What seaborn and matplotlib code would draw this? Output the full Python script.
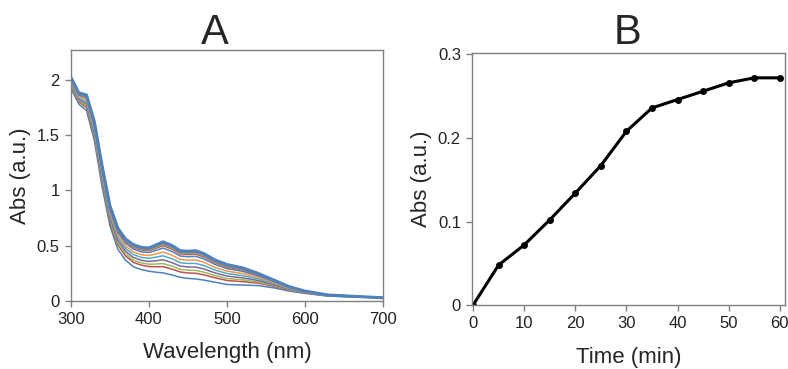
"""UV-vis spectra over time (A) and absorbance kinetics (B)."""

import matplotlib
matplotlib.use("Agg")
import matplotlib.pyplot as plt
import pandas as pd
import seaborn as sns

# Panel A: spectra sampled at these wavelengths, one curve per time point
WAVELENGTH = [300, 310, 320, 330, 340, 350, 360, 370, 380, 390, 400, 410, 418,
              430, 440, 450, 460, 470, 485, 500, 520, 540, 560, 580, 600, 630, 700]
ABS_00 = [1.92, 1.78, 1.72, 1.45, 1.03, 0.68, 0.47, 0.37, 0.31, 0.285, 0.27, 0.26, 0.255,
          0.235, 0.215, 0.205, 0.20, 0.19, 0.17, 0.15, 0.145, 0.14, 0.12, 0.09, 0.07, 0.045, 0.03]
ABS_05 = [1.94, 1.80, 1.748, 1.484, 1.068, 0.716, 0.508, 0.408, 0.35, 0.325, 0.312, 0.31, 0.311,
          0.288, 0.263, 0.254, 0.251, 0.238, 0.21, 0.186, 0.176, 0.162, 0.134, 0.098, 0.074, 0.047, 0.03]
ABS_10 = [1.95, 1.81, 1.762, 1.501, 1.087, 0.734, 0.527, 0.427, 0.37, 0.345, 0.333, 0.335, 0.339,
          0.315, 0.287, 0.279, 0.277, 0.262, 0.23, 0.204, 0.192, 0.173, 0.141, 0.102, 0.076, 0.048, 0.03]
ABS_15 = [1.962, 1.822, 1.779, 1.521, 1.11, 0.756, 0.55, 0.45, 0.394, 0.369, 0.358, 0.365, 0.373,
          0.346, 0.316, 0.308, 0.307, 0.291, 0.254, 0.226, 0.21, 0.186, 0.149, 0.107, 0.078, 0.049, 0.03]
ABS_20 = [1.975, 1.835, 1.797, 1.544, 1.135, 0.779, 0.575, 0.475, 0.42, 0.395, 0.386, 0.398, 0.409,
          0.381, 0.347, 0.34, 0.34, 0.322, 0.28, 0.249, 0.23, 0.201, 0.159, 0.112, 0.081, 0.05, 0.03]
ABS_25 = [1.987, 1.847, 1.814, 1.564, 1.157, 0.801, 0.597, 0.497, 0.444, 0.419, 0.411, 0.428, 0.443,
          0.413, 0.376, 0.369, 0.371, 0.351, 0.304, 0.271, 0.249, 0.214, 0.167, 0.117, 0.083, 0.052, 0.03]
ABS_30 = [2.0, 1.86, 1.832, 1.586, 1.182, 0.824, 0.622, 0.522, 0.47, 0.445, 0.438, 0.46, 0.479,
          0.447, 0.407, 0.401, 0.404, 0.382, 0.33, 0.294, 0.269, 0.228, 0.176, 0.122, 0.086, 0.053, 0.03]
ABS_35 = [2.008, 1.868, 1.843, 1.6, 1.197, 0.838, 0.637, 0.537, 0.486, 0.461, 0.455, 0.48, 0.501,
          0.468, 0.426, 0.421, 0.424, 0.401, 0.346, 0.308, 0.281, 0.237, 0.182, 0.125, 0.088, 0.054, 0.03]
ABS_40 = [2.012, 1.872, 1.849, 1.606, 1.205, 0.846, 0.645, 0.545, 0.494, 0.469, 0.463, 0.49, 0.513,
          0.479, 0.436, 0.43, 0.435, 0.411, 0.354, 0.316, 0.288, 0.241, 0.184, 0.127, 0.088, 0.054, 0.03]
ABS_45 = [2.015, 1.875, 1.853, 1.612, 1.211, 0.851, 0.651, 0.551, 0.50, 0.475, 0.47, 0.498, 0.521,
          0.487, 0.443, 0.438, 0.442, 0.418, 0.36, 0.321, 0.292, 0.245, 0.187, 0.128, 0.089, 0.055, 0.03]
ABS_50 = [2.018, 1.878, 1.857, 1.617, 1.216, 0.856, 0.656, 0.556, 0.506, 0.481, 0.476, 0.505, 0.529,
          0.495, 0.45, 0.445, 0.45, 0.425, 0.366, 0.326, 0.297, 0.248, 0.189, 0.129, 0.09, 0.055, 0.03]
ABS_55 = [2.019, 1.879, 1.859, 1.618, 1.218, 0.858, 0.658, 0.558, 0.508, 0.483, 0.478, 0.508, 0.532,
          0.497, 0.453, 0.448, 0.452, 0.428, 0.368, 0.328, 0.298, 0.249, 0.189, 0.13, 0.09, 0.055, 0.03]
ABS_60 = [2.02, 1.88, 1.86, 1.62, 1.22, 0.86, 0.66, 0.56, 0.51, 0.485, 0.48, 0.51, 0.535,
          0.50, 0.455, 0.45, 0.455, 0.43, 0.37, 0.33, 0.30, 0.25, 0.19, 0.13, 0.09, 0.055, 0.03]
SPECTRA = [ABS_00, ABS_05, ABS_10, ABS_15, ABS_20, ABS_25, ABS_30,
           ABS_35, ABS_40, ABS_45, ABS_50, ABS_55, ABS_60]

# Panel B: kinetics
TIME_MIN = [0, 5, 10, 15, 20, 25, 30, 35, 40, 45, 50, 55, 60]
ABS_KINETIC = [0.0, 0.048, 0.072, 0.102, 0.134, 0.167, 0.208, 0.236, 0.246,
               0.256, 0.266, 0.272, 0.272]

# Excel 2007 style series colours
EXCEL = ["#4F81BD", "#C0504D", "#9BBB59", "#8064A2", "#4BACC6", "#F79646"]

sns.set_theme(style="ticks")
plt.rcParams["font.family"] = ["Liberation Sans", "DejaVu Sans"]

spectra = pd.DataFrame(
    [(t, w, a) for t, curve in zip(TIME_MIN, SPECTRA) for w, a in zip(WAVELENGTH, curve)],
    columns=["time", "wavelength", "abs"],
)
palette = {t: EXCEL[i % len(EXCEL)] for i, t in enumerate(TIME_MIN)}

fig = plt.figure(figsize=(7.88, 3.69), dpi=100)
ax_a = fig.add_axes([0.090, 0.184, 0.396, 0.680])
ax_b = fig.add_axes([0.599, 0.173, 0.397, 0.684])

sns.lineplot(data=spectra, x="wavelength", y="abs", hue="time", palette=palette,
             linewidth=1.1, legend=False, ax=ax_a)
ax_a.lines[-1].set_linewidth(2.2)
ax_a.set_xlim(300, 700)
ax_a.set_ylim(0, 2.265)
ax_a.set_xticks([300, 400, 500, 600, 700])
ax_a.set_yticks([0, 0.5, 1, 1.5, 2])
ax_a.set_yticklabels(["0", "0.5", "1", "1.5", "2"])
ax_a.set_xlabel("Wavelength (nm)", fontsize=16, labelpad=11)
ax_a.set_ylabel("Abs (a.u.)", fontsize=16, labelpad=4)

sns.lineplot(x=TIME_MIN, y=ABS_KINETIC, color="black", linewidth=2.2,
             marker="o", markersize=5, markeredgewidth=0, ax=ax_b)
ax_b.set_xlim(-0.2, 61)
ax_b.set_ylim(0, 0.302)
ax_b.set_xticks(range(0, 61, 10))
ax_b.set_yticks([0, 0.1, 0.2, 0.3])
ax_b.set_yticklabels(["0", "0.1", "0.2", "0.3"])
ax_b.set_xlabel("Time (min)", fontsize=16, labelpad=11)
ax_b.set_ylabel("Abs (a.u.)", fontsize=16, labelpad=4)

for ax in (ax_a, ax_b):
    for side in ("top", "right", "bottom", "left"):
        ax.spines[side].set_visible(True)
        ax.spines[side].set_color("#808080")
        ax.spines[side].set_linewidth(1.0)
    ax.tick_params(axis="both", labelsize=12, length=4, width=1, color="#808080",
                   labelcolor="#222222", pad=4)

fig.text(0.273, 0.965, "A", fontsize=30, ha="center", va="top")
fig.text(0.796, 0.965, "B", fontsize=30, ha="center", va="top")

fig.savefig("out.png", dpi=100)
